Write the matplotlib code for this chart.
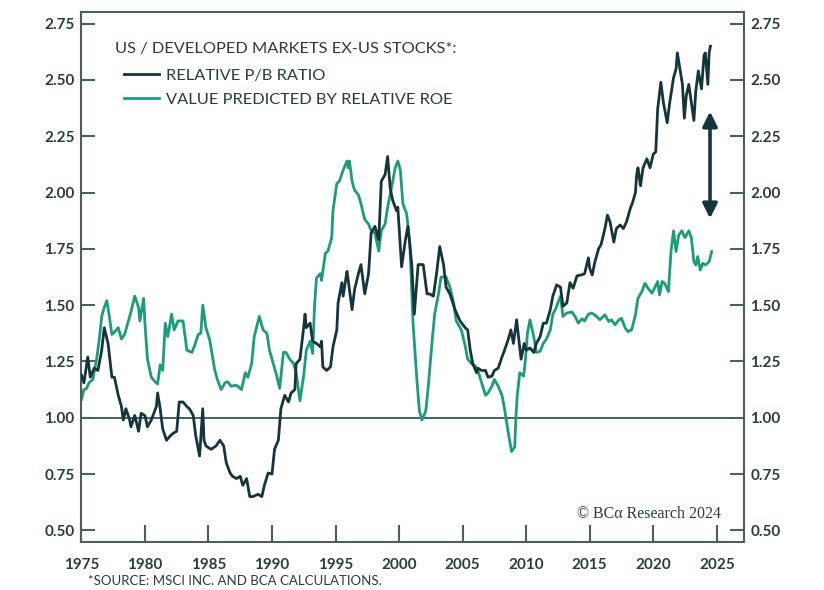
import numpy as np
import matplotlib.pyplot as plt

# Datos (año, valor)
pb_years = [1975.0, 1975.2, 1975.5, 1975.7, 1976.0, 1976.3, 1976.6, 1976.8, 1977.1, 1977.4,
            1977.6, 1977.9, 1978.15, 1978.3, 1978.5, 1978.8, 1978.9, 1979.2, 1979.5, 1979.7,
            1980.0, 1980.2, 1980.5, 1980.9, 1981.0, 1981.2, 1981.4, 1981.7, 1982.0, 1982.2,
            1982.5, 1982.7, 1983.0, 1983.3, 1983.5, 1983.8, 1984.0, 1984.3, 1984.55, 1984.65,
            1984.8, 1985.2, 1985.6, 1985.9, 1986.2, 1986.4, 1986.7, 1986.9, 1987.2, 1987.5,
            1987.7, 1988.0, 1988.25, 1988.5, 1988.9, 1989.2, 1989.4, 1989.7, 1990.0, 1990.2,
            1990.5, 1990.7, 1991.0, 1991.3, 1991.5, 1991.8, 1991.9, 1992.2, 1992.45, 1992.6,
            1992.7, 1993.0, 1993.2, 1993.5, 1993.8, 1993.9, 1994.0, 1994.3, 1994.6, 1994.8,
            1995.1, 1995.2, 1995.5, 1995.6, 1995.9, 1996.0, 1996.3, 1996.5, 1996.8, 1997.0,
            1997.3, 1997.6, 1997.8, 1998.1, 1998.4, 1998.6, 1998.9, 1999.1, 1999.3, 1999.5,
            1999.8, 1999.9, 2000.2, 2000.5, 2000.7, 2001.0, 2001.2, 2001.5, 2001.9, 2002.2,
            2002.4, 2002.7, 2002.95, 2003.2, 2003.5, 2003.7, 2004.0, 2004.4, 2004.8, 2005.2,
            2005.4, 2005.6, 2005.8, 2006.1, 2006.2, 2006.5, 2006.8, 2007.0, 2007.3, 2007.5,
            2007.8, 2008.1, 2008.3, 2008.6, 2008.8, 2009.0, 2009.25, 2009.4, 2009.6, 2009.85,
            2010.0, 2010.3, 2010.6, 2010.8, 2011.1, 2011.35, 2011.6, 2011.9, 2012.1, 2012.4,
            2012.7, 2012.9, 2013.2, 2013.45, 2013.7, 2014.0, 2014.4, 2014.6, 2014.9, 2015.0,
            2015.2, 2015.4, 2015.7, 2015.9, 2016.2, 2016.4, 2016.6, 2016.9, 2017.1, 2017.4,
            2017.65, 2017.9, 2018.2, 2018.4, 2018.6, 2018.7, 2018.8, 2019.0, 2019.2, 2019.5,
            2019.75, 2020.0, 2020.2, 2020.35, 2020.6, 2020.8, 2021.1, 2021.3, 2021.6, 2021.8,
            2021.9, 2022.1, 2022.3, 2022.45, 2022.6, 2022.8, 2023.0, 2023.2, 2023.35, 2023.55,
            2023.8, 2024.0, 2024.1, 2024.3, 2024.4, 2024.5]
pb_ratio = [1.19, 1.155, 1.27, 1.18, 1.22, 1.21, 1.30, 1.40, 1.33, 1.18,
            1.18, 1.10, 1.05, 0.99, 1.04, 0.99, 0.96, 1.01, 0.94, 1.02,
            1.01, 0.96, 0.99, 1.05, 1.11, 1.04, 0.95, 0.90, 0.92, 0.93,
            0.94, 1.07, 1.07, 1.05, 1.04, 1.01, 0.92, 0.83, 1.04, 0.90,
            0.875, 0.86, 0.875, 0.90, 0.875, 0.80, 0.755, 0.74, 0.73, 0.74,
            0.70, 0.73, 0.65, 0.65, 0.66, 0.65, 0.70, 0.755, 0.75, 0.86,
            0.90, 1.04, 1.10, 1.07, 1.11, 1.125, 1.24, 1.26, 1.38, 1.46,
            1.40, 1.42, 1.34, 1.33, 1.315, 1.34, 1.226, 1.21, 1.226, 1.315,
            1.39, 1.51, 1.60, 1.54, 1.65, 1.61, 1.48, 1.57, 1.64, 1.68,
            1.55, 1.64, 1.82, 1.85, 1.79, 2.05, 2.08, 2.16, 2.02, 1.965,
            1.92, 1.935, 1.67, 1.79, 1.85, 1.68, 1.46, 1.68, 1.68, 1.55,
            1.55, 1.54, 1.64, 1.76, 1.68, 1.58, 1.55, 1.48, 1.43, 1.40,
            1.39, 1.30, 1.24, 1.20, 1.22, 1.21, 1.21, 1.18, 1.185, 1.21,
            1.22, 1.27, 1.30, 1.35, 1.39, 1.33, 1.435, 1.36, 1.26, 1.33,
            1.30, 1.31, 1.29, 1.33, 1.36, 1.42, 1.42, 1.48, 1.54, 1.59,
            1.58, 1.495, 1.51, 1.60, 1.575, 1.63, 1.635, 1.64, 1.71, 1.664,
            1.634, 1.69, 1.75, 1.77, 1.84, 1.90, 1.87, 1.78, 1.84, 1.856,
            1.84, 1.87, 1.93, 1.96, 2.00, 2.08, 2.11, 2.03, 2.11, 2.15,
            2.11, 2.17, 2.18, 2.37, 2.49, 2.40, 2.31, 2.40, 2.51, 2.55,
            2.62, 2.55, 2.48, 2.33, 2.43, 2.48, 2.40, 2.32, 2.45, 2.54,
            2.46, 2.61, 2.62, 2.48, 2.62, 2.65]

roe_years = [1975.0, 1975.2, 1975.4, 1975.6, 1975.9, 1976.2, 1976.4, 1976.6, 1976.8, 1977.0,
             1977.2, 1977.4, 1977.6, 1977.9, 1978.15, 1978.4, 1978.7, 1978.9, 1979.2, 1979.5,
             1979.6, 1979.9, 1980.0, 1980.2, 1980.5, 1980.8, 1981.0, 1981.2, 1981.4, 1981.6,
             1981.8, 1982.1, 1982.3, 1982.6, 1983.0, 1983.3, 1983.7, 1983.9, 1984.2, 1984.4,
             1984.55, 1984.8, 1985.1, 1985.5, 1985.7, 1986.0, 1986.3, 1986.5, 1986.8, 1987.2,
             1987.6, 1987.9, 1988.1, 1988.4, 1988.6, 1989.0, 1989.3, 1989.6, 1989.8, 1990.1,
             1990.4, 1990.6, 1990.9, 1991.1, 1991.4, 1991.7, 1991.9, 1992.2, 1992.5, 1992.7,
             1993.0, 1993.2, 1993.35, 1993.5, 1993.8, 1993.9, 1994.2, 1994.4, 1994.7, 1994.8,
             1995.1, 1995.3, 1995.6, 1995.9, 1996.0, 1996.1, 1996.3, 1996.5, 1996.8, 1997.0,
             1997.3, 1997.6, 1997.8, 1998.1, 1998.4, 1998.6, 1998.9, 1999.1, 1999.4, 1999.7,
             1999.9, 2000.1, 2000.3, 2000.6, 2000.85, 2001.1, 2001.4, 2001.6, 2001.8, 2002.1,
             2002.3, 2002.6, 2002.8, 2003.1, 2003.3, 2003.7, 2004.0, 2004.3, 2004.5, 2004.9,
             2005.2, 2005.4, 2005.7, 2006.0, 2006.2, 2006.5, 2006.8, 2007.0, 2007.3, 2007.5,
             2007.8, 2008.1, 2008.3, 2008.5, 2008.7, 2008.85, 2009.1, 2009.2, 2009.3, 2009.5,
             2009.8, 2009.95, 2010.1, 2010.3, 2010.6, 2010.8, 2011.1, 2011.35, 2011.6, 2011.9,
             2012.1, 2012.3, 2012.5, 2012.7, 2012.9, 2013.2, 2013.6, 2013.85, 2014.1, 2014.4,
             2014.6, 2014.9, 2015.15, 2015.4, 2015.8, 2016.2, 2016.5, 2016.7, 2017.0, 2017.3,
             2017.5, 2017.8, 2018.0, 2018.3, 2018.6, 2018.8, 2019.1, 2019.35, 2019.6, 2019.9,
             2020.1, 2020.35, 2020.5, 2020.7, 2020.9, 2021.2, 2021.4, 2021.6, 2021.8, 2022.0,
             2022.25, 2022.5, 2022.8, 2023.0, 2023.2, 2023.35, 2023.5, 2023.7, 2023.9, 2024.1,
             2024.4, 2024.6]
roe_value = [1.08, 1.125, 1.13, 1.155, 1.17, 1.26, 1.345, 1.45, 1.49, 1.52,
             1.45, 1.37, 1.38, 1.40, 1.35, 1.37, 1.43, 1.47, 1.54, 1.49,
             1.43, 1.53, 1.42, 1.26, 1.18, 1.16, 1.15, 1.235, 1.21, 1.42,
             1.36, 1.46, 1.39, 1.43, 1.43, 1.30, 1.29, 1.32, 1.37, 1.375,
             1.50, 1.40, 1.345, 1.21, 1.17, 1.125, 1.155, 1.16, 1.14, 1.145,
             1.125, 1.20, 1.18, 1.24, 1.36, 1.45, 1.39, 1.375, 1.30, 1.24,
             1.18, 1.13, 1.29, 1.29, 1.26, 1.24, 1.20, 1.075, 1.19, 1.30,
             1.34, 1.285, 1.50, 1.62, 1.64, 1.61, 1.73, 1.74, 1.80, 1.92,
             2.04, 2.05, 2.10, 2.14, 2.11, 2.14, 2.05, 2.01, 1.99, 1.95,
             1.88, 1.86, 1.83, 1.82, 1.74, 1.83, 1.86, 1.935, 2.02, 2.11,
             2.14, 2.10, 1.95, 1.905, 1.77, 1.42, 1.17, 1.03, 0.99, 1.03,
             1.14, 1.34, 1.46, 1.55, 1.625, 1.625, 1.58, 1.51, 1.43, 1.39,
             1.32, 1.26, 1.24, 1.23, 1.21, 1.155, 1.10, 1.11, 1.14, 1.17,
             1.14, 1.10, 1.04, 0.965, 0.90, 0.85, 0.87, 1.01, 1.10, 1.20,
             1.185, 1.26, 1.375, 1.435, 1.36, 1.29, 1.295, 1.33, 1.35, 1.39,
             1.46, 1.48, 1.51, 1.54, 1.45, 1.465, 1.47, 1.45, 1.42, 1.44,
             1.43, 1.46, 1.465, 1.457, 1.435, 1.457, 1.427, 1.435, 1.413, 1.435,
             1.442, 1.398, 1.383, 1.39, 1.457, 1.53, 1.56, 1.597, 1.575, 1.553,
             1.575, 1.605, 1.545, 1.605, 1.597, 1.56, 1.738, 1.83, 1.738, 1.81,
             1.83, 1.80, 1.83, 1.80, 1.693, 1.678, 1.716, 1.656, 1.686, 1.678,
             1.693, 1.738]

x_ticks = [1975, 1980, 1985, 1990, 1995, 2000, 2005, 2010, 2015, 2020, 2025]
y_ticks = [0.50, 0.75, 1.00, 1.25, 1.50, 1.75, 2.00, 2.25, 2.50, 2.75]

oscuro = '#15353a'
verde = '#1c9c7a'
gris = '#4a5f5f'
texto = '#2a3d3d'

plt.rcParams['font.family'] = ['Lato', 'DejaVu Sans']

fig = plt.figure(figsize=(8.24, 5.90), dpi=100)
ax = fig.add_axes([0.098, 0.082, 0.805, 0.897])

ax.axhline(1.0, color=oscuro, lw=1.1, zorder=1)
ax.plot(roe_years, roe_value, color=verde, lw=2.0, label='VALUE PREDICTED BY RELATIVE ROE', zorder=2)
ax.plot(pb_years, pb_ratio, color=oscuro, lw=2.0, label='RELATIVE P/B RATIO', zorder=3)

# Flecha doble
ax.annotate('', xy=(2024.47, 2.36), xytext=(2024.47, 1.885),
            arrowprops=dict(arrowstyle='<|-|>', lw=2.6, color=oscuro,
                            mutation_scale=22, shrinkA=0, shrinkB=0))

ax.set_xlim(1974.95, 2027.15)
ax.set_ylim(0.45, 2.80)
ax.set_xticks(x_ticks)
ax.set_yticks(y_ticks)
ax.set_yticklabels([f'{v:.2f}' for v in y_ticks])

for s in ax.spines.values():
    s.set_color(gris)
    s.set_linewidth(1.5)
ax.tick_params(axis='both', direction='in', color=gris, width=1.5, labelcolor=texto,
               labelsize=11)
ax.tick_params(axis='y', length=10, right=True, labelright=True, pad=4.5)
ax.tick_params(axis='x', length=12, pad=12)
for lab in ax.get_xticklabels() + ax.get_yticklabels():
    lab.set_fontweight('bold')

# Leyenda
handles, labels = ax.get_legend_handles_labels()
ax.text(0.0517, 0.931, 'US / DEVELOPED MARKETS EX-US STOCKS*:', transform=ax.transAxes,
        fontsize=11.8, color=texto, va='center', ha='left')
leg = ax.legend(handles[::-1], labels[::-1], loc='upper left', bbox_to_anchor=(0.056, 0.906),
                frameon=False, fontsize=11.8, handlelength=2.1, handletextpad=0.45,
                labelspacing=0.55, borderaxespad=0)
for t in leg.get_texts():
    t.set_color(texto)

ax.text(0.965, 0.052, '© BCα Research 2024', transform=ax.transAxes, ha='right', va='center',
        fontsize=11.5, color=texto, family=['Liberation Serif', 'DejaVu Serif'])

fig.text(0.107, 0.015, '*SOURCE: MSCI INC. AND BCA CALCULATIONS.', fontsize=9.5,
         color=texto, ha='left', va='center')

fig.savefig('out.png', dpi=100)
